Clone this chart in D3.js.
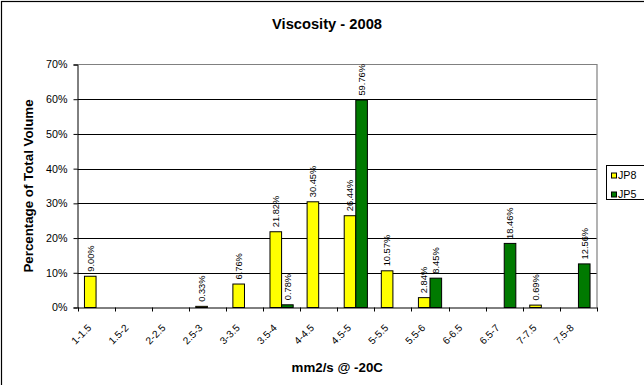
<!DOCTYPE html>
<html>
<head>
<meta charset="utf-8">
<script src="https://cdn.jsdelivr.net/npm/d3@7"></script>
<style>
  html, body { margin: 0; padding: 0; background: #fff; }
  svg { display: block; font-family: "Liberation Sans", Arial, sans-serif; }
</style>
</head>
<body>
<svg id="chart" width="644" height="385"></svg>
<script>
// Viscosity distribution ranges (mm2/s @ -20C)
const categories = ["1-1.5", "1.5-2", "2-2.5", "2.5-3", "3-3.5", "3.5-4", "4-4.5",
                    "4.5-5", "5-5.5", "5.5-6", "6-6.5", "6.5-7", "7-7.5", "7.5-8"];
// Percentage of total volume per series (null = no volume in that range)
const jp8 = [9.00, null, null, 0.33, 6.76, 21.82, 30.45, 26.44, 10.57, 2.84, null, null, 0.69, null];
const jp5 = [null, null, null, null, null, 0.78, null, 59.76, null, 8.45, null, 18.46, null, 12.56];
const seriesNames = ["JP8", "JP5"];
const seriesColors = ["#FFFF00", "#007A00"];
const yTicks = [0, 10, 20, 30, 40, 50, 60, 70];

const svg = d3.select("#chart");
const plot = { left: 77.5, right: 597, top: 64.5, bottom: 307.5 };

// Outer chart frame (extends past the right/bottom of the view)
svg.append("rect").attr("x", 1.5).attr("y", 1.5).attr("width", 700).attr("height", 500)
  .attr("fill", "#fff").attr("stroke", "#000").attr("stroke-width", 1.2);

const x0 = d3.scaleBand().domain(categories).range([plot.left, plot.right]).padding(0);
const x1 = d3.scaleBand().domain(seriesNames).range([0, x0.bandwidth()])
  .paddingInner(0).paddingOuter(0.6);
const y = d3.scaleLinear().domain([0, 70]).range([plot.bottom, plot.top]);

// Gridlines
svg.append("g").selectAll("line").data(yTicks.filter(t => t > 0 && t < 70)).join("line")
  .attr("x1", plot.left).attr("x2", plot.right)
  .attr("y1", d => Math.round(y(d)) + 0.5).attr("y2", d => Math.round(y(d)) + 0.5)
  .attr("stroke", "#000").attr("stroke-width", 1);

// Plot area border (top and right)
svg.append("path")
  .attr("d", `M${plot.left},${plot.top}H${plot.right}V${plot.bottom}`)
  .attr("fill", "none").attr("stroke", "#808080").attr("stroke-width", 1.2);

// Bars
const rows = categories.map((c, i) => ({ cat: c, vals: [jp8[i], jp5[i]] }));
const fmt = d3.format(".2f");
const groups = svg.append("g").selectAll("g").data(rows).join("g")
  .attr("transform", d => `translate(${x0(d.cat)},0)`);

const barData = d => d.vals.map((v, k) => ({ v, k, name: seriesNames[k] })).filter(e => e.v != null);

groups.selectAll("rect").data(barData).join("rect")
  .attr("x", e => x1(e.name))
  .attr("width", x1.bandwidth())
  .attr("y", e => y(e.v))
  .attr("height", e => y(0) - y(e.v))
  .attr("fill", e => seriesColors[e.k])
  .attr("stroke", "#000").attr("stroke-width", 1);

// Data labels (rotated, above each bar)
groups.selectAll("text").data(barData).join("text")
  .attr("transform", e => `translate(${x1(e.name) + x1.bandwidth() / 2},${y(e.v) - 4.5}) rotate(-90)`)
  .attr("dy", "0.35em")
  .attr("text-anchor", "start")
  .attr("font-size", "9.3px")
  .attr("fill", "#000")
  .text(e => fmt(e.v) + "%");

// Y axis
const yAxis = d3.axisLeft(y).tickValues(yTicks).tickFormat(d => d + "%").tickSize(4).tickPadding(6);
const gy = svg.append("g").attr("transform", `translate(${plot.left},0)`).call(yAxis);
gy.select(".domain").attr("stroke", "#000");
gy.selectAll(".tick line").attr("stroke", "#000");
gy.selectAll(".tick text").attr("font-size", "10.7px").attr("fill", "#000")
  .attr("font-family", "'Liberation Sans', Arial, sans-serif");

// X axis: ticks at range boundaries, labels centred in each range
const xAxis = d3.axisBottom(x0).tickSize(0).tickFormat(() => "");
const gx = svg.append("g").attr("transform", `translate(0,${plot.bottom})`).call(xAxis);
gx.select(".domain").attr("stroke", "#000");
const boundaries = categories.map(c => x0(c)).concat([plot.right]);
svg.append("g").selectAll("line").data(boundaries).join("line")
  .attr("x1", d => Math.round(d) + 0.5).attr("x2", d => Math.round(d) + 0.5)
  .attr("y1", plot.bottom).attr("y2", plot.bottom + 4)
  .attr("stroke", "#000");

svg.append("g").selectAll("text").data(categories).join("text")
  .attr("transform", d => `translate(${x0(d) + x0.bandwidth() / 2 - 4},${plot.bottom + 21}) rotate(-45)`)
  .attr("text-anchor", "end")
  .attr("font-size", "10.2px")
  .attr("fill", "#000")
  .text(d => d);

// Titles
svg.append("text").attr("x", 327).attr("y", 28.5).attr("text-anchor", "middle")
  .attr("font-size", "14.7px").attr("font-weight", "bold").text("Viscosity - 2008");

svg.append("text").attr("x", (plot.left + plot.right) / 2).attr("y", 372).attr("text-anchor", "middle")
  .attr("font-size", "13.3px").attr("font-weight", "bold").text("mm2/s @ -20C");

svg.append("text")
  .attr("transform", `translate(33,${(plot.top + plot.bottom) / 2}) rotate(-90)`)
  .attr("text-anchor", "middle")
  .attr("font-size", "13.3px").attr("font-weight", "bold").text("Percentage of Total Volume");

// Legend
const legend = svg.append("g");
legend.append("rect").attr("x", 606.5).attr("y", 165.5).attr("width", 60).attr("height", 34)
  .attr("fill", "#fff").attr("stroke", "#000").attr("stroke-width", 1);
const items = legend.selectAll("g").data(seriesNames).join("g")
  .attr("transform", (d, i) => `translate(611,${172.5 + i * 19})`);
items.append("rect").attr("x", 0.5).attr("y", 0.5).attr("width", 5).attr("height", 5)
  .attr("fill", (d, i) => seriesColors[i]).attr("stroke", "#000");
items.append("text").attr("x", 7).attr("y", 6.3).attr("font-size", "10.7px").text(d => d);
</script>
</body>
</html>
